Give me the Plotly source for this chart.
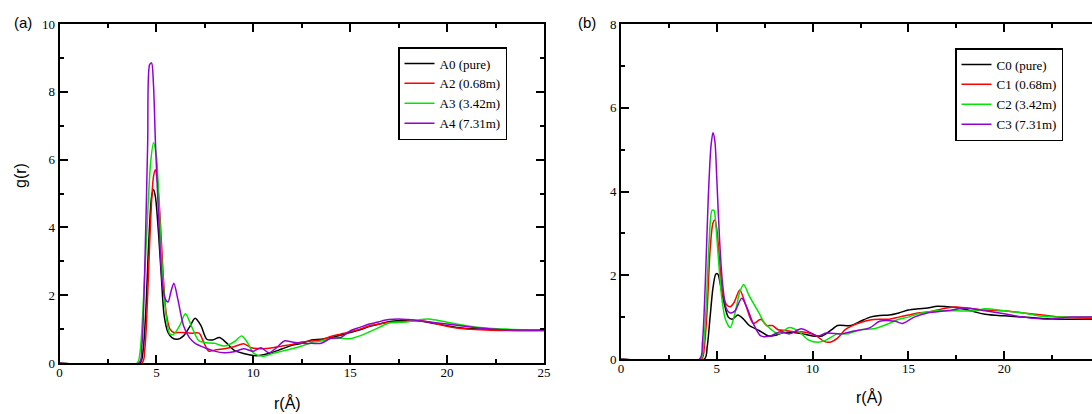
import plotly.graph_objects as go

# ---------------- data: panel (a) ----------------
A0_r = [0, 4.15, 4.3, 4.45, 4.6, 4.75, 4.85, 4.95, 5.1, 5.25, 5.4, 5.6, 5.8, 6.1, 6.4, 6.7, 7.0, 7.3, 7.6, 7.9, 8.25, 8.6, 9.0, 9.5, 10.0, 10.3, 10.8, 11.5, 12.0, 12.5, 13.0, 13.5, 14.0, 14.5, 15.0, 15.5, 16.0, 16.5, 17.0, 17.5, 18.0, 18.5, 19.0, 19.5, 20.0, 20.5, 21.0, 22.0, 23.0, 24.0, 25.0]
A0_g = [0, 0, 0.3, 1.5, 3.5, 4.9, 5.12, 4.9, 3.9, 2.6, 1.4, 0.9, 0.75, 0.7, 0.8, 1.05, 1.32, 1.1, 0.7, 0.68, 0.75, 0.6, 0.38, 0.28, 0.22, 0.22, 0.28, 0.42, 0.52, 0.58, 0.68, 0.7, 0.75, 0.82, 0.9, 0.98, 1.08, 1.15, 1.22, 1.25, 1.27, 1.25, 1.2, 1.15, 1.1, 1.05, 1.02, 1.0, 0.98, 0.97, 0.97]

A2_r = [0, 4.25, 4.4, 4.55, 4.7, 4.85, 4.95, 5.05, 5.2, 5.35, 5.5, 5.7, 5.9, 6.3, 6.8, 7.2, 7.45, 7.7, 8.0, 8.5, 9.0, 9.5, 9.9, 10.4, 11.0, 11.5, 12.0, 12.5, 13.0, 13.5, 14.0, 14.5, 15.0, 15.5, 16.0, 16.5, 17.0, 17.5, 18.0, 18.5, 19.0, 19.5, 20.0, 20.5, 21.0, 22.0, 23.0, 24.0, 25.0]
A2_g = [0, 0, 0.4, 2.0, 4.2, 5.5, 5.7, 5.4, 4.2, 2.6, 1.5, 1.0, 0.9, 0.9, 0.88, 0.88, 0.6, 0.35, 0.38, 0.42, 0.48, 0.57, 0.45, 0.42, 0.45, 0.5, 0.55, 0.62, 0.65, 0.68, 0.78, 0.85, 0.92, 1.0, 1.1, 1.15, 1.2, 1.22, 1.23, 1.25, 1.22, 1.15, 1.08, 1.03, 1.0, 0.97, 0.96, 0.95, 0.95]

A3_r = [0, 4.0, 4.15, 4.3, 4.5, 4.7, 4.85, 5.0, 5.15, 5.3, 5.5, 5.7, 5.9, 6.2, 6.5, 6.8, 7.2, 7.6, 8.0, 8.5, 9.0, 9.4, 9.7, 10.0, 10.5, 11.0, 11.5, 12.0, 12.5, 13.0, 13.5, 14.0, 14.5, 15.0, 15.5, 16.0, 16.5, 17.0, 17.5, 18.0, 18.5, 19.0, 19.5, 20.0, 21.0, 22.0, 23.0, 24.0, 25.0]
A3_g = [0, 0, 0.3, 1.5, 3.8, 5.9, 6.5, 6.1, 4.5, 2.8, 1.4, 0.85, 0.85, 1.1, 1.45, 1.1, 0.65, 0.6, 0.58, 0.5, 0.62, 0.8, 0.6, 0.3, 0.2, 0.28, 0.35, 0.42, 0.5, 0.6, 0.65, 0.72, 0.73, 0.72, 0.8, 0.92, 1.05, 1.18, 1.2, 1.22, 1.27, 1.3, 1.26, 1.2, 1.1, 1.03, 1.0, 0.98, 0.98]

A4_r = [0, 4.1, 4.25, 4.4, 4.55, 4.65, 4.75, 4.85, 4.95, 5.1, 5.3, 5.45, 5.6, 5.75, 5.9, 6.1, 6.4, 6.7, 7.0, 7.5, 8.0, 8.5, 9.0, 9.5, 10.0, 10.4, 10.8, 11.2, 11.6, 12.0, 12.5, 13.0, 13.5, 14.0, 14.5, 15.0, 15.5, 16.0, 16.5, 17.0, 17.5, 18.0, 18.5, 19.0, 20.0, 21.0, 22.0, 23.0, 24.0, 25.0]
A4_g = [0, 0, 0.5, 2.8, 6.5, 8.8, 8.85, 8.2, 6.5, 4.5, 2.4, 1.9, 1.8, 2.1, 2.35, 1.9, 1.1, 0.75, 0.58, 0.45, 0.35, 0.3, 0.33, 0.42, 0.35, 0.45, 0.3, 0.45, 0.65, 0.62, 0.58, 0.58, 0.58, 0.73, 0.75, 0.95, 1.05, 1.15, 1.22, 1.28, 1.3, 1.28, 1.25, 1.22, 1.15, 1.08, 1.02, 0.98, 0.97, 0.97]

# ---------------- data: panel (b) ----------------
C0_r = [0, 4.35, 4.5, 4.65, 4.8, 4.95, 5.05, 5.2, 5.4, 5.6, 5.8, 6.1, 6.4, 6.7, 7.2, 7.7, 8.0, 8.5, 9.0, 9.5, 10.0, 10.5, 11.0, 11.3, 12.0, 12.5, 13.0, 13.5, 14.0, 14.5, 15.0, 15.5, 16.0, 16.5, 17.0, 17.5, 18.0, 18.5, 19.0, 20.0, 21.0, 22.0, 23.0, 24.0, 25.0]
C0_g = [0, 0, 0.3, 1.0, 1.7, 2.03, 2.03, 1.75, 1.3, 1.0, 0.95, 1.05, 0.95, 0.8, 0.68, 0.55, 0.56, 0.63, 0.63, 0.6, 0.55, 0.55, 0.7, 0.8, 0.8, 0.9, 1.0, 1.04, 1.05, 1.1, 1.17, 1.2, 1.22, 1.26, 1.25, 1.23, 1.18, 1.12, 1.07, 1.03, 1.0, 0.97, 0.95, 0.95, 0.95]

C1_r = [0, 4.2, 4.35, 4.5, 4.65, 4.8, 4.9, 5.0, 5.15, 5.3, 5.5, 5.7, 5.9, 6.2, 6.5, 6.9, 7.3, 7.6, 7.9, 8.2, 8.6, 9.0, 9.4, 9.8, 10.2, 10.6, 10.9, 11.3, 11.7, 12.0, 12.5, 13.0, 13.5, 14.0, 14.5, 15.0, 15.5, 16.0, 16.5, 17.0, 17.5, 18.0, 19.0, 20.0, 21.0, 22.0, 23.0, 24.0, 25.0]
C1_g = [0, 0, 0.3, 1.2, 2.6, 3.25, 3.32, 3.1, 2.3, 1.6, 1.3, 1.25, 1.35, 1.65, 1.3, 0.85, 0.95, 0.8, 0.8, 0.7, 0.68, 0.65, 0.65, 0.62, 0.55, 0.42, 0.4, 0.5, 0.7, 0.78, 0.87, 0.93, 0.95, 0.95, 1.0, 1.05, 1.1, 1.12, 1.17, 1.22, 1.24, 1.22, 1.17, 1.15, 1.1, 1.05, 1.0, 0.98, 0.97]

C2_r = [0, 4.15, 4.3, 4.45, 4.6, 4.75, 4.85, 4.95, 5.1, 5.25, 5.45, 5.7, 5.95, 6.2, 6.4, 6.7, 7.2, 7.5, 7.8, 8.2, 8.8, 9.3, 9.8, 10.3, 10.7, 11.3, 11.8, 12.5, 13.2, 14.0, 14.5, 15.0, 15.5, 16.5, 17.5, 18.5, 19.0, 20.0, 21.0, 22.0, 23.0, 24.0, 25.0]
C2_g = [0, 0, 0.3, 1.3, 2.8, 3.55, 3.55, 3.2, 2.3, 1.5, 0.95, 0.75, 1.1, 1.6, 1.78, 1.5, 1.1, 0.85, 0.72, 0.6, 0.75, 0.65, 0.45, 0.4, 0.45, 0.6, 0.6, 0.7, 0.72, 0.85, 0.95, 1.0, 1.08, 1.15, 1.15, 1.15, 1.2, 1.15, 1.1, 1.02, 1.0, 1.0, 1.0]

C3_r = [0, 4.1, 4.25, 4.4, 4.55, 4.7, 4.8, 4.9, 5.0, 5.15, 5.3, 5.5, 5.7, 5.95, 6.3, 6.6, 6.9, 7.3, 7.8, 8.3, 8.8, 9.4, 10.0, 10.3, 10.7, 11.5, 12.0, 13.0, 13.5, 14.3, 14.7, 15.3, 16.0, 17.0, 18.0, 19.0, 20.0, 21.0, 22.3, 23.5, 24.5, 25.0]
C3_g = [0, 0, 0.4, 1.8, 3.8, 5.1, 5.4, 5.2, 4.3, 2.8, 1.8, 1.2, 1.1, 1.15, 1.45, 1.2, 0.85, 0.55, 0.55, 0.65, 0.6, 0.72, 0.6, 0.55, 0.62, 0.6, 0.65, 0.75, 0.9, 0.9, 0.85, 1.0, 1.1, 1.15, 1.22, 1.15, 1.08, 1.0, 0.95, 1.0, 1.0, 1.0]

names_a = ["A0 (pure)", "A2 (0.68m)", "A3 (3.42m)", "A4 (7.31m)"]
names_b = ["C0 (pure)", "C1 (0.68m)", "C2 (3.42m)", "C3 (7.31m)"]
colors = ["#000000", "#ff0000", "#00e600", "#9400d3"]

x_ticks = [0, 5, 10, 15, 20, 25]
ya_ticks = [0, 2, 4, 6, 8, 10]
yb_ticks = [0, 2, 4, 6, 8]

W, H = 1092, 414
SERIF = "Liberation Serif"
SANS = "Liberation Sans"

fig = go.Figure()
series_a = [(A0_r, A0_g), (A2_r, A2_g), (A3_r, A3_g), (A4_r, A4_g)]
series_b = [(C0_r, C0_g), (C1_r, C1_g), (C2_r, C2_g), (C3_r, C3_g)]
for (r, g), nm, c in zip(series_a, names_a, colors):
    fig.add_trace(go.Scatter(x=r, y=g, mode="lines", name=nm,
                             line=dict(color=c, width=1.5, shape="spline", smoothing=0.8),
                             xaxis="x", yaxis="y", legend="legend"))
for (r, g), nm, c in zip(series_b, names_b, colors):
    fig.add_trace(go.Scatter(x=r, y=g, mode="lines", name=nm,
                             line=dict(color=c, width=1.5, shape="spline", smoothing=0.8),
                             xaxis="x2", yaxis="y2", legend="legend2"))

def px_x(p):
    return p / W

def px_y(p):
    return 1 - p / H

minor_common = dict(ticks="inside", ticklen=4, tickcolor="black", tickwidth=1.5)
common_axis = dict(showgrid=False, zeroline=False, showline=True, linecolor="black",
                   linewidth=2, ticks="inside", tickcolor="black", tickwidth=1.5, ticklen=8,
                   automargin=False, layer="above traces",
                   tickfont=dict(family=SERIF, size=13, color="black"))

# Panel (b) x range chosen so 25 lies just beyond the right window edge (plot is cut off)
xb_max = (W - 621) / ((1100 - 621) / 25)

fig.update_layout(
    template="none",
    width=W, height=H,
    margin=dict(l=0, r=0, t=0, b=0, pad=0),
    paper_bgcolor="white", plot_bgcolor="white",
    showlegend=True,
    font=dict(family=SERIF, color="black"),
    xaxis=dict(domain=[px_x(59.5), px_x(544)], range=[0, 25], anchor="y",
               tickvals=x_ticks, mirror="ticks", ticklabelstandoff=-4,
               minor=dict(dtick=2.5, tick0=0, **minor_common), **common_axis),
    yaxis=dict(domain=[px_y(363), px_y(24)], range=[0, 10], anchor="x",
               tickvals=ya_ticks, mirror="ticks",
               minor=dict(dtick=1, tick0=0, **minor_common), **common_axis),
    xaxis2=dict(domain=[px_x(621), 1.0], range=[0, xb_max], anchor="y2",
                tickvals=x_ticks, mirror="ticks", ticklabelstandoff=-4,
                minor=dict(dtick=2.5, tick0=0, **minor_common), **common_axis),
    yaxis2=dict(domain=[px_y(359), px_y(24)], range=[0, 8], anchor="x2",
                tickvals=yb_ticks, mirror=False,
                minor=dict(dtick=1, tick0=0, **minor_common), **common_axis),
    legend=dict(x=px_x(398), y=px_y(47), xanchor="left", yanchor="top",
                bgcolor="white", bordercolor="black", borderwidth=1.5,
                font=dict(family=SERIF, size=13, color="black"),
                tracegroupgap=0, itemwidth=30),
    legend2=dict(x=px_x(955), y=px_y(48), xanchor="left", yanchor="top",
                 bgcolor="white", bordercolor="black", borderwidth=1.5,
                 font=dict(family=SERIF, size=13, color="black"),
                 tracegroupgap=0, itemwidth=30),
)

ann = [
    dict(text="(a)", x=px_x(23), y=px_y(22), font=dict(family=SANS, size=15, color="black")),
    dict(text="(b)", x=px_x(587), y=px_y(22), font=dict(family=SANS, size=15, color="black")),
    dict(text="g(r)", x=px_x(20), y=px_y(176), textangle=-90, font=dict(family=SANS, size=16, color="black")),
    dict(text="r(Å)", x=px_x(287), y=px_y(403), font=dict(family=SANS, size=16, color="black")),
    dict(text="r(Å)", x=px_x(869), y=px_y(397), font=dict(family=SANS, size=16, color="black")),
    # partially visible "25" tick label of panel (b), cut by the window edge as in the reference
    dict(text="25", x=px_x(1100), y=px_y(369), font=dict(family=SERIF, size=13, color="black")),
]
for a in ann:
    fig.add_annotation(xref="paper", yref="paper", showarrow=False,
                       xanchor="center", yanchor="middle", **a)

fig.write_html("out.html")
